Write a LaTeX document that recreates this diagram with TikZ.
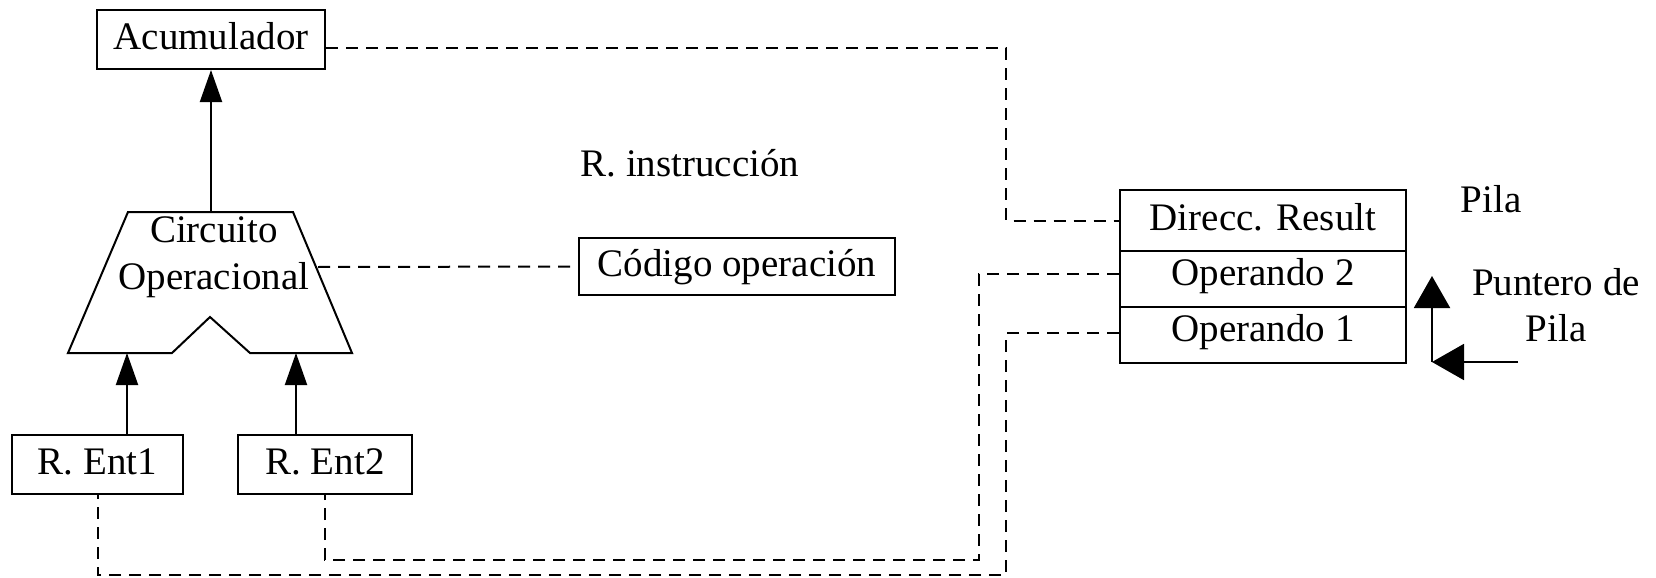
\documentclass[tikz,border=0pt]{standalone}
\usepackage{fontspec}
\setmainfont{Liberation Serif}
\usetikzlibrary{arrows.meta}
\begin{document}
\begin{tikzpicture}[x=0.5pt,y=-0.5pt,
  font=\fontsize{19.5pt}{23.25pt}\selectfont,
  line width=1pt,
  box/.style={draw, line width=1pt, inner sep=0pt, text height=14pt, text depth=4pt},
  oprow/.style={box, text height=13pt, text depth=7pt},
  lbl/.style={inner sep=0pt, anchor=base},
  dsh/.style={line width=1pt, dash pattern=on 6pt off 4pt},
  arr/.style={line width=1pt, -{Triangle[length=16pt,width=11pt]}},
  bigarr/.style={line width=1pt, -{Triangle[length=16pt,width=18pt]}}]
\useasboundingbox (0,0) rectangle (1656,578);
% boxes
\node[box, minimum width=114pt, minimum height=29.5pt] (acum) at (211,39.5) {Acumulador};
\node[box, minimum width=158pt, minimum height=28.5pt] (cod) at (737,266.5) {Código operación};
\node[box, minimum width=85.5pt, minimum height=29.5pt] (ent1) at (97.5,464.5) {R. Ent1};
\node[box, minimum width=87pt, minimum height=29.5pt] (ent2) at (325,464.5) {R. Ent2};
\node[box, minimum width=143pt, minimum height=30.5pt] (dir) at (1263,220.5) {Direcc. Result};
\node[oprow, minimum width=143pt, minimum height=28pt] (op2) at (1263,279) {Operando 2};
\node[oprow, minimum width=143pt, minimum height=28pt] (op1) at (1263,335) {Operando 1};
% ALU trapezoid
\draw (128,212) -- (293,212) -- (352,353) -- (250,353) -- (210,317) -- (172,353) -- (68,353) -- cycle;
\node[inner sep=0pt, align=center] (alu) at (214,257) {Circuito\\Operacional};
\coordinate (aluTop) at (211,212);
\coordinate (aluR) at (318,267);
\coordinate (inL) at (127,353);
\coordinate (inR) at (296,353);
% labels
\node[lbl] (rins) at (690,176) {R. instrucción};
\node[lbl] (pila) at (1491,212) {Pila};
\node[inner sep=0pt, align=center] (punt) at (1556,305) {Puntero de\\Pila};
% solid arrows
\draw[arr] (aluTop) -- (acum.south);
\draw[arr] (ent1.north -| inL) -- (inL);
\draw[arr] (ent2.north -| inR) -- (inR);
% stack pointer arrows
\coordinate (p0) at (1432,362);
\coordinate (p1) at (1432,276);
\coordinate (p2) at (1518,362);
\draw[bigarr] (p0) -- (p1);
\draw[bigarr] (p2) -- (p0);
% dashed connectors
\coordinate (k1) at (1006,0);
\coordinate (k2) at (979,560);
\coordinate (k3) at (1006,575);
\draw[dsh] ([yshift=-4.3pt]acum.east) -| (k1 |- dir.west) -- (dir.west);
\draw[dsh] (aluR) -- (cod.west);
\draw[dsh] ([yshift=2.5pt]op2.west) -| (k2) -| (ent2.south);
\draw[dsh] ([yshift=1pt]op1.west) -| (k3) -| (ent1.south);
\end{tikzpicture}
\end{document}
